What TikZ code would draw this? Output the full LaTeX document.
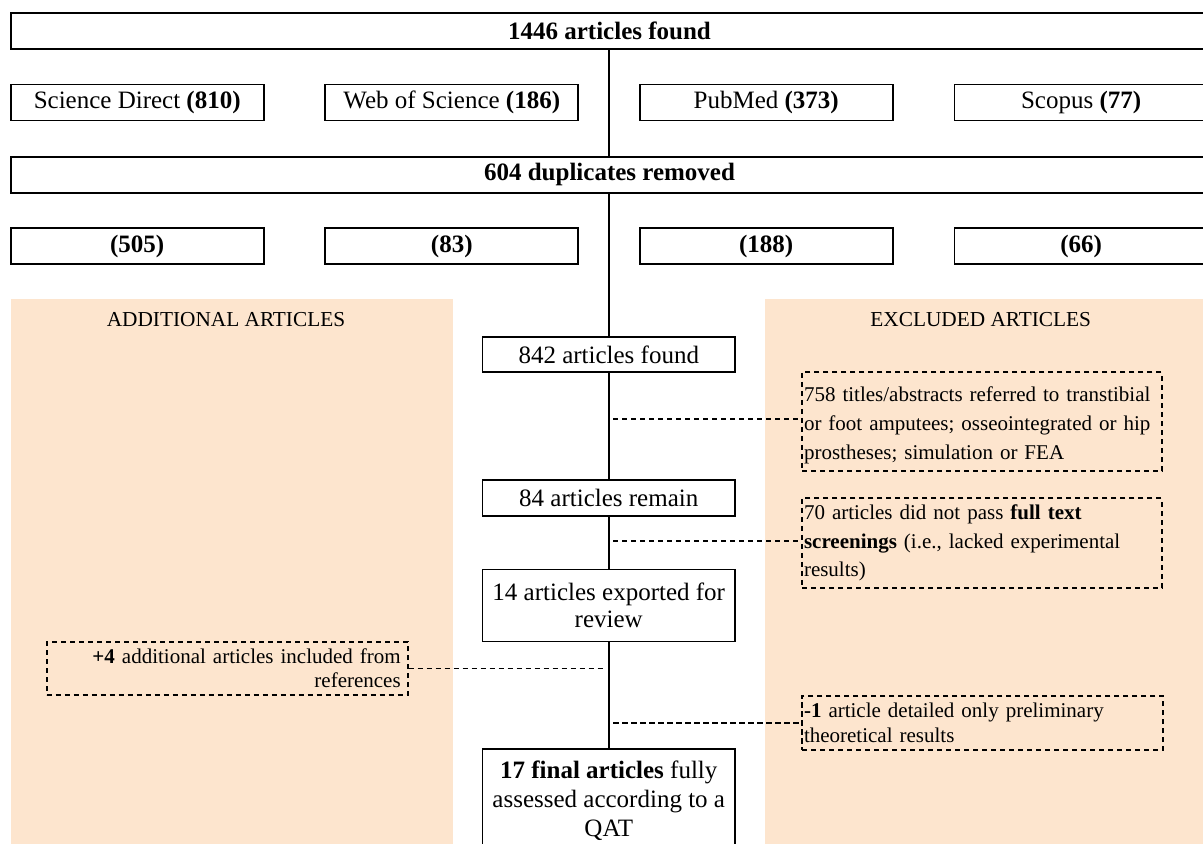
\documentclass[tikz,border=0pt]{standalone}
\usepackage{fontspec}
\setmainfont{Liberation Serif}
\definecolor{peachbg}{RGB}{253,229,206}
\tikzset{
 sbox/.style={draw, line width=0.85pt, inner sep=0pt, font=\fontsize{12.5pt}{13.7pt}\selectfont},
 dbox/.style={draw, dash pattern=on 2.6pt off 1.9pt, line width=0.9pt, inner xsep=1pt, inner ysep=0pt},
 dline/.style={dash pattern=on 2.6pt off 1.9pt, line width=0.9pt},
 vline/.style={line width=0.85pt},
 head/.style={font=\fontsize{10.65pt}{12pt}\selectfont, inner sep=0pt, anchor=base},
 src/.style={sbox, minimum width=126.5pt, minimum height=18pt},
 wide/.style={sbox, minimum width=598.8pt, minimum height=18pt},
 mid/.style={sbox, minimum width=126.25pt, align=center},
}
\begin{document}
\begin{tikzpicture}[x=0.5pt,y=-0.5pt]
\clip (0,0) rectangle (1203,844);
\fill[white] (0,0) rectangle (1203,844);
\fill[peachbg] (10.7,299.3) rectangle (452.7,844);
\fill[peachbg] (765.4,299.3) rectangle (1203,844);

\node[wide] (all) at (609.5,30.7) {\textbf{1446 articles found}};
\node[src] (sd) at (137.2,102.5) {Science Direct \textbf{(810)}};
\node[src] (wos) at (451.8,102.5) {Web of Science \textbf{(186)}};
\node[src] (pm) at (766.2,102.5) {PubMed \textbf{(373)}};
\node[src] (sc) at (1081.1,102.5) {Scopus \textbf{(77)}};
\node[wide] (dup) at (609.5,174.7) {\textbf{604 duplicates removed}};
\node[src] (n1) at (137.2,246.3) {\textbf{(505)}};
\node[src] (n2) at (451.8,246.3) {\textbf{(83)}};
\node[src] (n3) at (766.2,246.3) {\textbf{(188)}};
\node[src] (n4) at (1081.1,246.3) {\textbf{(66)}};

\node[head] (hadd) at (226,326.7) {ADDITIONAL ARTICLES};
\node[head] (hexc) at (980.7,326.7) {EXCLUDED ARTICLES};

\node[mid, minimum height=17.8pt] (b842) at (608.75,354.5) {842 articles found};
\node[mid, minimum height=18pt] (b84) at (608.75,498) {84 articles remain};
\node[mid, minimum height=36pt] (b14) at (608.75,605.4) {14 articles exported for\\review};
\node[mid, minimum height=51.85pt, font=\fontsize{12.5pt}{14.43pt}\selectfont] (final) at (608.75,800.85) {\textbf{17 final articles} fully\\assessed according to a\\QAT};

\node[dbox, minimum width=180pt, minimum height=49.2pt, text width=178pt, align=left, font=\fontsize{10.5pt}{14.4pt}\selectfont] (ex1) at (982,421.5) {\rule{0pt}{11.35pt}758 titles/abstracts referred to transtibial\\or foot amputees; osseointegrated or hip\\prostheses; simulation or FEA};
\node[dbox, minimum width=180pt, minimum height=44.7pt, text width=178pt, align=left, font=\fontsize{10.5pt}{14.4pt}\selectfont] (ex2) at (982,543) {70 articles did not pass \textbf{full text}\\\textbf{screenings} (i.e., lacked experimental\\results)};
\node[dbox, minimum width=180.5pt, minimum height=26.5pt, inner xsep=3.5pt, text width=173.5pt, align=right, font=\fontsize{10.5pt}{12.15pt}\selectfont] (inc) at (227.2,668.5) {\textbf{+4} additional articles included from\\references};
\node[dbox, minimum width=180.5pt, minimum height=27.15pt, text width=178.5pt, align=left, font=\fontsize{10.5pt}{12.2pt}\selectfont] (ex3) at (982.5,722.85) {\textbf{-1} article detailed only preliminary\\theoretical results};

\draw[vline] (all.south -| b842.center) -- (dup.north -| b842.center);
\draw[vline] (dup.south -| b842.center) -- (b842.north);
\draw[vline] (b842.south) -- (b84.north);
\draw[vline] (b84.south) -- (b14.north);
\draw[vline] (b14.south) -- (final.north);

\coordinate (c1) at (613,419.3);
\coordinate (c2) at (613,541.3);
\coordinate (c3) at (605,668.5);
\coordinate (c4) at (613.3,722.7);
\draw[dline] (c1) -- (c1 -| ex1.west);
\draw[dline] (c2) -- (c2 -| ex2.west);
\draw[dline] (inc.east) -- (c3);
\draw[dline] (c4) -- (c4 -| ex3.west);
\end{tikzpicture}
\end{document}
